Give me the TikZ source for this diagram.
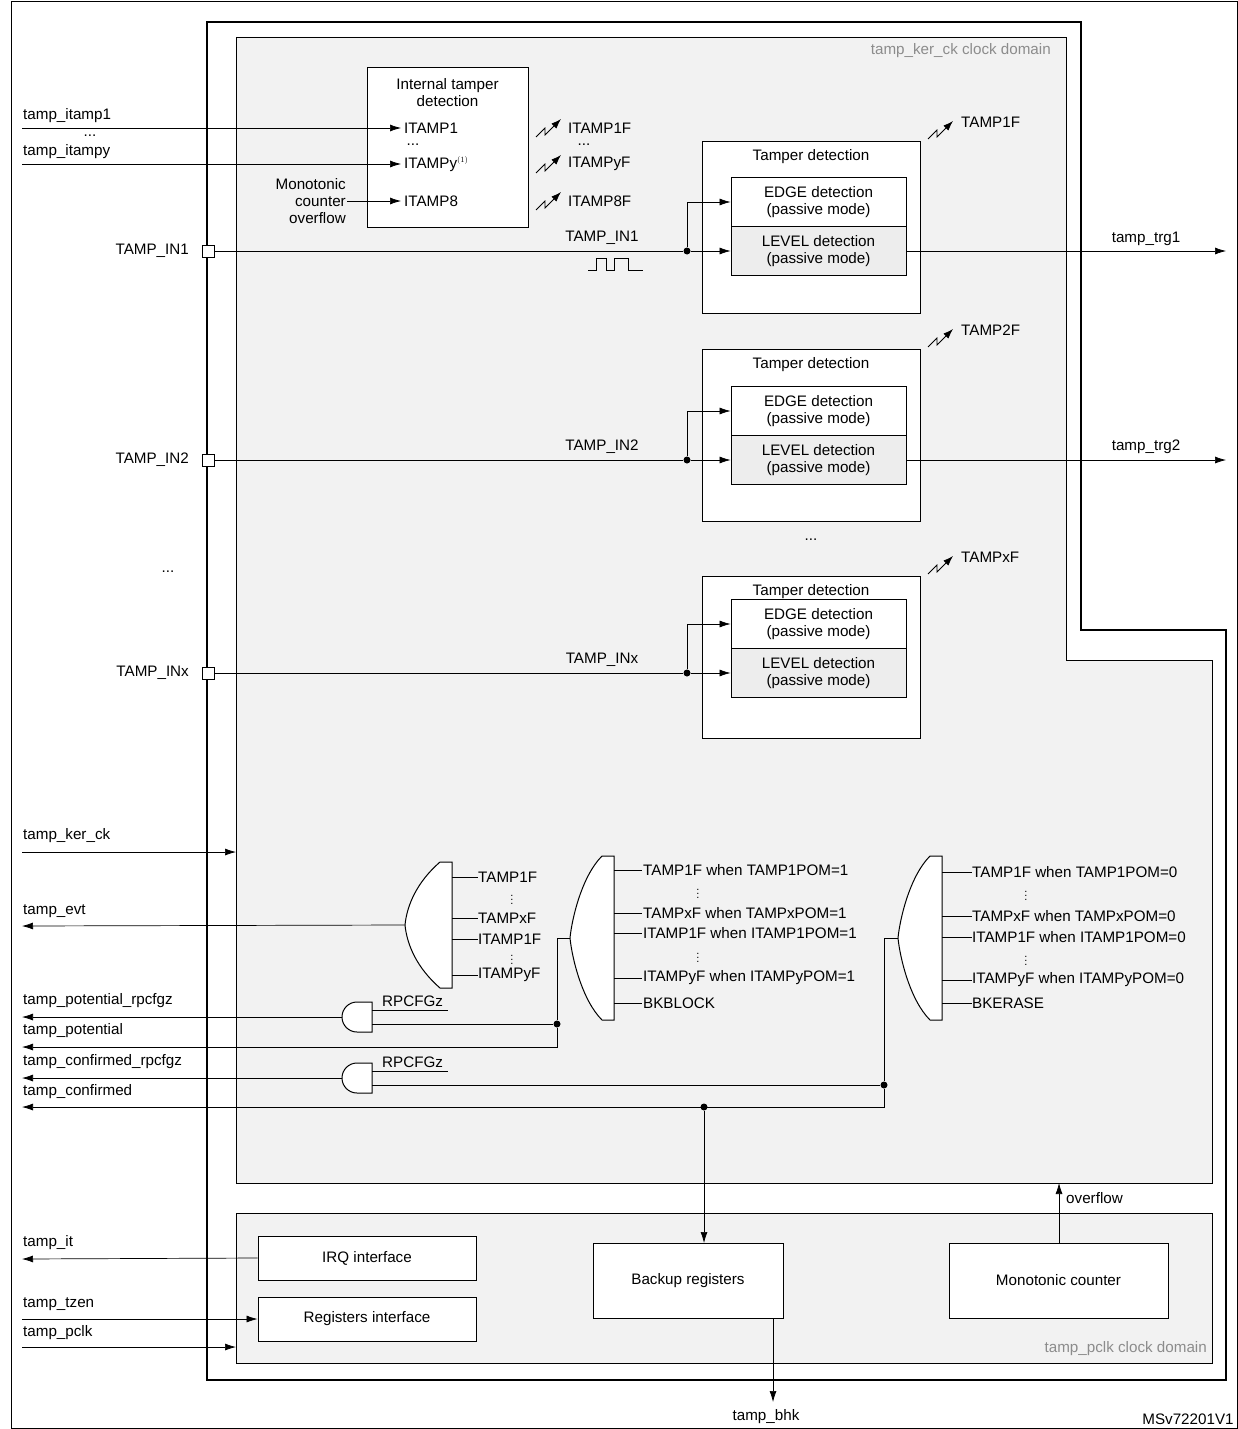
\documentclass[tikz,border=0pt]{standalone}
\usepackage{fontspec}
\setmainfont{Liberation Sans}
\usetikzlibrary{arrows.meta}
\begin{document}
\begin{tikzpicture}[x=1pt,y=-1pt,
  every node/.style={font=\fontsize{15.2}{17}\selectfont,inner sep=0pt},
  box/.style={draw,line width=0.9pt,fill=white,align=center},
  sig/.style={line width=0.7pt},
  arr/.style={sig,-{Latex[length=11pt,width=7pt]}},
  lab/.style={anchor=west},
  dot/.style={circle,fill,inner sep=0pt,minimum size=7pt},
  gatef/.style={draw,line width=1pt,fill=white}]
\useasboundingbox (0,0) rectangle (1238,1429);
\draw[line width=0.8pt] (11,1) rectangle (1237,1428);
% TAMP outer
\draw[line width=1.6pt] (207,22) -- (1081,22) -- (1081,630) -- (1226,630) -- (1226,1380) -- (207,1380) -- cycle;
\draw[line width=0.9pt,fill=black!5] (236,37) -- (1066,37) -- (1066,660) -- (1212,660) -- (1212,1183) -- (236,1183) -- cycle;
\draw[line width=0.9pt,fill=black!5] (236,1213) rectangle (1212,1363);
\node[anchor=east,text=black!45] (kd) at (1051,51) {tamp\_ker\_ck clock domain};
\node[anchor=east,text=black!45] (pd) at (1207,1349) {tamp\_pclk clock domain};
% internal tamper
\node[box,minimum width=161pt,minimum height=160pt] (itd) at (447.5,147) {};
\node (itdt) at (447.5,93) [align=center] {Internal tamper\\detection};
\node[lab] (i1) at (404,128) {ITAMP1};
\node (i1d) at (413,145) {...};
\node[lab] (iy) at (404,164) {ITAMPy$^{\scriptscriptstyle(1)}$};
\node[lab] (i8) at (404,201) {ITAMP8};
\node[lab] (l1) at (23,116) {tamp\_itamp1};
\node (ld) at (90,136) {...};
\node[lab] (ly) at (23,152) {tamp\_itampy};
\node[align=right,anchor=east] (mco) at (346,201) {Monotonic\\counter\\overflow};
\coordinate (s1) at (22,128); \coordinate (sy) at (22,164); \coordinate (s8) at (347,201);
\draw[arr] (s1) -- ([xshift=-3pt]i1.west);
\draw[arr] (sy) -- ([xshift=-3pt]iy.west);
\draw[arr] (s8) -- ([xshift=-3pt]i8.west);
\tikzset{pics/bolt/.style={code={\draw[line width=0.8pt,-{Latex[length=10pt,width=7pt]}] (-12,9) -- (-3,0) -- (-3,7) -- (13,-9);}}}
\pic at (548,128) {bolt}; \node[lab] (f1) at (568,128) {ITAMP1F};
\node (fd) at (584,145) {...};
\pic at (548,164) {bolt}; \node[lab] (fy) at (568,164) {ITAMPyF};
\pic at (548,201) {bolt}; \node[lab] (f8) at (568,201) {ITAMP8F};
% tamper detection blocks
\foreach \n/\t/\e/\y/\lbl/\ff in {1/141/313/251/IN1/TAMP1F,2/349/521/460/IN2/TAMP2F,3/576/738/673/INx/TAMPxF}{
  \draw[line width=0.9pt,fill=white] (702,\t) rectangle (920,\e);
  \node (tdt\n) at (811,\t+16) {Tamper detection};
  \node[box,fill=white,minimum width=175pt,minimum height=49pt] (edge\n) at (818.5,\y-49) {EDGE detection\\(passive mode)};
  \node[box,fill=black!7,minimum width=175pt,minimum height=49pt] (lev\n) at (818.5,\y) {LEVEL detection\\(passive mode)};
  \node[draw,line width=1pt,fill=white,minimum size=12pt] (pin\n) at (208,\y) {};
  \node[dot] (d\n) at (687,\y) {};
  \draw[sig] (pin\n.east) -- (d\n);
  \draw[arr] (d\n) -- (lev\n.west);
  \draw[arr] (d\n) |- (edge\n.west);
  \node (tin\n) at (602,\y-13) {TAMP\_\lbl};
  \node[anchor=east] (tl\n) at (189,\y) {TAMP\_\lbl};
  \pic at (940,\t-11) {bolt};
  \node[lab] (tf\n) at (961,\t-19) {\ff};
}
\coordinate (trg1) at (1226,251); \coordinate (trg2) at (1226,460);
\draw[arr] (lev1.east) -- (trg1); \node (tg1) at (1146,239) {tamp\_trg1};
\draw[arr] (lev2.east) -- (trg2); \node (tg2) at (1146,447) {tamp\_trg2};
\node (vd) at (811,540) {...};
\node (ld2) at (168,572) {...};
\draw[sig] (588,270) -- (596,270) -- (596,258) -- (606,258) -- (606,270) -- (614,270) -- (614,258) -- (628,258) -- (628,270) -- (643,270);
% ker_ck
\coordinate (kin) at (22,852); \coordinate (kend) at (236,852);
\draw[arr] (kin) -- (kend); \node[lab] (kl) at (23,836) {tamp\_ker\_ck};
% OR gates
\newcommand{\orgate}[5]{% back x, top, bottom, tip x, name
  \pgfmathsetmacro{\my}{(#2+#3)/2}
  \draw[gatef] (#1,#2) -- (#1-12,#2) .. controls (#4+12,#2+20) and (#4+2,\my-20) .. (#4,\my) .. controls (#4+2,\my+20) and (#4+12,#3-20) .. (#1-12,#3) -- (#1,#3) -- cycle;
  \coordinate (#5) at (#4,\my);}
\orgate{452}{862}{988}{405}{o1}
\orgate{614}{856}{1020}{570}{o2}
\orgate{942}{856}{1020}{898}{o3}
\foreach \y/\t in {877/TAMP1F,918/TAMPxF,939/ITAMP1F,975/ITAMPyF}{\draw[sig] (452,\y) -- (478,\y); \node[lab] at (478,\y) {\t};}
\node[font=\fontsize{11}{11}\selectfont] at (512,897) {$\vdots$}; \node[font=\fontsize{11}{11}\selectfont] at (512,957) {$\vdots$};
\foreach \y/\t in {870/TAMP1F when TAMP1POM=1,913/TAMPxF when TAMPxPOM=1,933/ITAMP1F when ITAMP1POM=1,978/ITAMPyF when ITAMPyPOM=1,1003/BKBLOCK}{\draw[sig] (614,\y) -- (642,\y); \node[lab] at (643,\y) {\t};}
\node[font=\fontsize{11}{11}\selectfont] at (698,891) {$\vdots$}; \node[font=\fontsize{11}{11}\selectfont] at (698,955) {$\vdots$};
\foreach \y/\t in {872/TAMP1F when TAMP1POM=0,916/TAMPxF when TAMPxPOM=0,937/ITAMP1F when ITAMP1POM=0,980/ITAMPyF when ITAMPyPOM=0,1003/BKERASE}{\draw[sig] (942,\y) -- (972,\y); \node[lab] at (972,\y) {\t};}
\node[font=\fontsize{11}{11}\selectfont] at (1026,893) {$\vdots$}; \node[font=\fontsize{11}{11}\selectfont] at (1026,958) {$\vdots$};
% AND gates
\draw[gatef] (372,1002) -- (357,1002) arc[start angle=270,end angle=90,radius=15] -- (372,1032) -- cycle;
\coordinate (a1) at (342,1017);
\draw[gatef] (372,1063) -- (357,1063) arc[start angle=270,end angle=90,radius=15] -- (372,1093) -- cycle;
\coordinate (a2) at (342,1078);
\draw[sig] (372,1010) -- (448,1010); \node[lab] (rp1) at (382,1001) {RPCFGz};
\draw[sig] (372,1071) -- (448,1071); \node[lab] (rp2) at (382,1062) {RPCFGz};
% outputs
\coordinate (evt) at (22,926); \coordinate (potr) at (22,1017); \coordinate (pot) at (22,1047);
\coordinate (conr) at (22,1078); \coordinate (con) at (22,1107);
\draw[arr] (o1) -- (evt); \node[lab] at (23,911) {tamp\_evt};
\draw[arr] (a1) -- (potr); \node[lab] at (23,1001) {tamp\_potential\_rpcfgz};
\node[dot] (dp) at (557,1024) {};
\draw[sig] (o2) -- (557,938) -- (dp);
\draw[arr] (dp) |- (pot); \node[lab] at (23,1031) {tamp\_potential};
\draw[sig] (dp) -- (372,1024);
\draw[arr] (a2) -- (conr); \node[lab] at (23,1062) {tamp\_confirmed\_rpcfgz};
\node[dot] (dc) at (884,1085) {};
\draw[sig] (o3) -- (884,938) -- (dc);
\draw[sig] (dc) -- (372,1085);
\draw[arr] (dc) |- (con); \node[lab] at (23,1092) {tamp\_confirmed};
\node[dot] (db) at (704,1107) {};
% bottom
\node[box,minimum width=218pt,minimum height=44pt] (irq) at (367,1258) {IRQ interface};
\node[box,minimum width=218pt,minimum height=44pt] (regi) at (367,1319) {Registers interface};
\node[box,minimum width=190pt,minimum height=75pt] (bkp) at (688,1280.5) {Backup registers};
\node[box,minimum width=219pt,minimum height=75pt] (mono) at (1058.5,1280.5) {Monotonic counter};
\draw[arr] (db) -- (704,1243);
\coordinate (itout) at (22,1259); \draw[arr] (irq.west) -- (itout); \node[lab] at (23,1243) {tamp\_it};
\coordinate (tz) at (22,1319); \draw[arr] (tz) -- (regi.west); \node[lab] at (23,1304) {tamp\_tzen};
\coordinate (pc) at (22,1347); \coordinate (pce) at (236,1347); \draw[arr] (pc) -- (pce); \node[lab] at (23,1333) {tamp\_pclk};
\coordinate (ovf) at (1059,1183); \draw[arr] (1059,1243) -- (ovf); \node[lab] at (1066,1198) {overflow};
\coordinate (bhk) at (773,1402); \draw[arr] (773,1318) -- (bhk); \node (bhkl) at (766,1417) {tamp\_bhk};
\node (ms) at (1188,1419) {MSv72201V1};
\end{tikzpicture}
\end{document}
